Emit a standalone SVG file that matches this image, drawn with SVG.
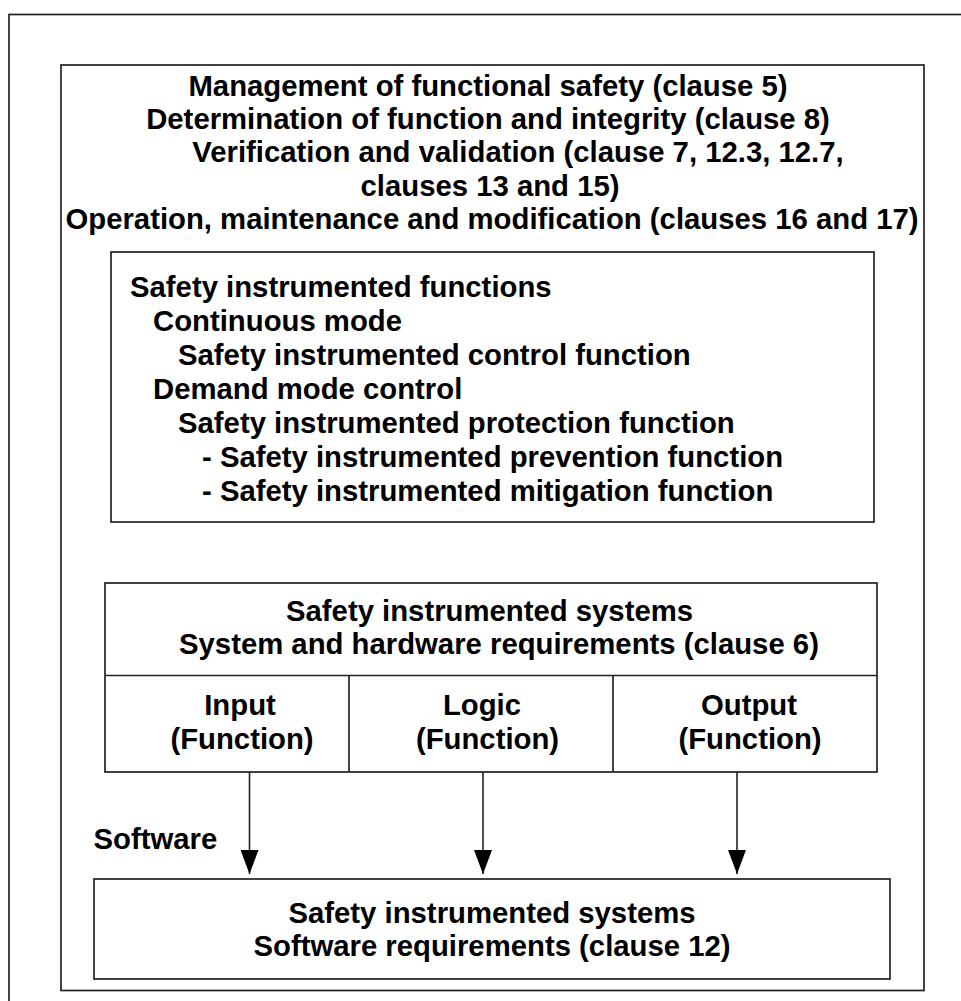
<svg xmlns="http://www.w3.org/2000/svg" width="961" height="1001" viewBox="0 0 961 1001">
<defs>
<style>
.box{fill:none;stroke:#222;stroke-width:1.7}
.t{font-family:"Liberation Sans",Arial,sans-serif;font-weight:bold;font-size:29.3px;fill:#000}
.c{text-anchor:middle}
.conn{stroke:#222;stroke-width:1.6;fill:none}
</style>
<marker id="ah" markerWidth="24" markerHeight="18" refX="24" refY="9" orient="auto" markerUnits="userSpaceOnUse" viewBox="0 0 24 18">
<path d="M0,0 L24,9 L0,18 Z" fill="#000"/>
</marker>
</defs>
<rect width="961" height="1001" fill="#fff"/>
<g id="outer-frame"><rect class="box" x="9" y="14.5" width="1100" height="1100"/></g>
<g id="scope">
<rect class="box" x="61" y="65" width="863" height="925.5"/>
<text class="t c" x="488" y="95.7">Management of functional safety (clause 5)</text>
<text class="t c" x="488" y="129">Determination of function and integrity (clause 8)</text>
<text class="t c" x="518" y="162.3">Verification and validation (clause 7, 12.3, 12.7,</text>
<text class="t c" x="490" y="195.7">clauses 13 and 15)</text>
<text class="t c" x="492" y="229">Operation, maintenance and modification (clauses 16 and 17)</text>
</g>
<g id="sif">
<rect class="box" x="111" y="252" width="763" height="270"/>
<text class="t" x="130" y="296.5">Safety instrumented functions</text>
<text class="t" x="153" y="330.5">Continuous mode</text>
<text class="t" x="178" y="364.5">Safety instrumented control function</text>
<text class="t" x="153" y="398.5">Demand mode control</text>
<text class="t" x="178" y="432.5">Safety instrumented protection function</text>
<text class="t" x="202" y="466.5">- Safety instrumented prevention function</text>
<text class="t" x="202" y="500.5">- Safety instrumented mitigation function</text>
</g>
<g id="sis-hw">
<rect class="box" x="105" y="583" width="772" height="189"/>
<line class="box" x1="105" y1="675.5" x2="877" y2="675.5"/>
<text class="t" x="286" y="621">Safety instrumented systems</text>
<text class="t" x="179" y="654.3">System and hardware requirements (clause 6)</text>
</g>
<g id="sis-input">
<line class="box" x1="349" y1="675.5" x2="349" y2="772"/>
<text class="t c" x="240" y="715">Input</text>
<text class="t c" x="242" y="748.5">(Function)</text>
</g>
<g id="sis-logic">
<text class="t c" x="482" y="715">Logic</text>
<text class="t c" x="487.5" y="748.5">(Function)</text>
</g>
<g id="sis-output">
<line class="box" x1="613" y1="675.5" x2="613" y2="772"/>
<text class="t c" x="749" y="715">Output</text>
<text class="t c" x="750" y="748.5">(Function)</text>
</g>
<g id="software-label"><text class="t" x="93.5" y="849">Software</text></g>
<g id="sis-sw">
<rect class="box" x="94" y="879" width="796" height="100"/>
<text class="t c" x="492" y="922.5">Safety instrumented systems</text>
<text class="t c" x="492" y="956">Software requirements (clause 12)</text>
</g>
<g id="connectors">
<line class="conn" x1="249.5" y1="772" x2="249.5" y2="874" marker-end="url(#ah)"/>
<line class="conn" x1="483" y1="772" x2="483" y2="874" marker-end="url(#ah)"/>
<line class="conn" x1="737" y1="772" x2="737" y2="874" marker-end="url(#ah)"/>
</g>
</svg>
